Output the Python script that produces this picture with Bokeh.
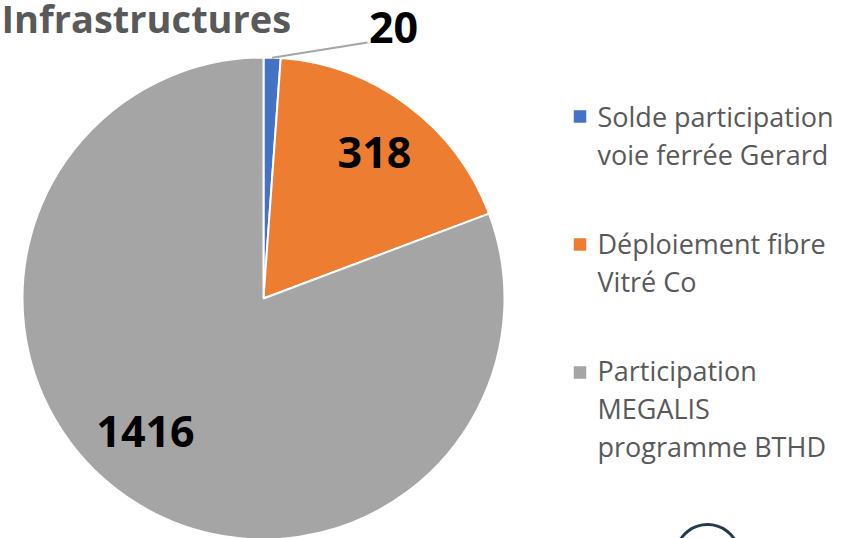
import math
from bokeh.plotting import figure
from bokeh.models import Range1d, ColumnDataSource
from bokeh.core.properties import value
from bokeh.embed import file_html
from bokeh.resources import INLINE

# ---- data ----
title_text = "Infrastructures"
categories = ["Solde participation voie ferrée Gerard",
              "Déploiement fibre Vitré Co",
              "Participation MEGALIS programme BTHD"]
legend_lines = [["Solde participation", "voie ferrée Gerard"],
                ["Déploiement fibre", "Vitré Co"],
                ["Participation", "MEGALIS", "programme BTHD"]]
values = [20, 318, 1416]
colors = ["#4472C4", "#ED7D31", "#A5A5A5"]

W, H = 848, 538
def X(xw):  # window px -> data
    return xw
def Y(yw):
    return H - yw

p = figure(width=W, height=H, output_backend="svg", toolbar_location=None,
           x_range=Range1d(0, W), y_range=Range1d(0, H), min_border=0)
p.axis.visible = False
p.grid.visible = False
p.outline_line_color = None
p.background_fill_color = "white"

# pie
cx, cy, r = X(263), Y(298), 241
total = float(sum(values))
starts, ends, mids = [], [], []
cum = 0.0
for v in values:
    a0 = math.pi / 2 - 2 * math.pi * cum / total
    cum += v
    a1 = math.pi / 2 - 2 * math.pi * cum / total
    starts.append(a0)
    ends.append(a1)
    mids.append((a0 + a1) / 2)
src = ColumnDataSource(dict(x=[cx] * 3, y=[cy] * 3, start=starts, end=ends, color=colors))
p.wedge(x="x", y="y", radius=r, start_angle="start", end_angle="end", direction="clock",
        fill_color="color", line_color="white", line_width=2, source=src)

# leader line for small slice
ex = cx + r * math.cos(mids[0])
ey = cy + r * math.sin(mids[0])
p.line([ex, X(367)], [ey, Y(42)], line_color="#A5A5A5", line_width=2)

# data labels
lab_pos = [(X(393), Y(27)), (X(374), Y(152)), (X(145), Y(431))]
p.text(x=[q[0] for q in lab_pos], y=[q[1] for q in lab_pos], text=[str(v) for v in values],
       text_font=value("Open Sans"), text_font_style="bold", text_font_size="43px",
       text_color="black", text_align="center", text_baseline="middle")

# title
p.text(x=[X(1)], y=[Y(17)], text=[title_text], text_font=value("Open Sans"),
       text_font_style="bold", text_font_size="38px", text_color="#595959",
       text_align="left", text_baseline="middle")

# legend
marker_y = [116, 244, 372]
first_mid = [116, 243, 370]
for i, lines in enumerate(legend_lines):
    p.rect(x=[X(579.5)], y=[Y(marker_y[i])], width=12.5, height=12.5,
           fill_color=colors[i], line_color=None)
    ys = [Y(first_mid[i] + 38 * k) for k in range(len(lines))]
    p.text(x=[X(597)] * len(lines), y=ys, text=lines, text_font=value("Open Sans"),
           text_font_size="27px", text_color="#595959", text_align="left",
           text_baseline="middle")

# partial logo outline at bottom right
p.arc(x=[X(707)], y=[Y(556)], radius=32, start_angle=0.3, end_angle=math.pi - 0.3,
      line_color="#243a52", line_width=3)

open("out.html", "w").write(file_html(p, INLINE))
